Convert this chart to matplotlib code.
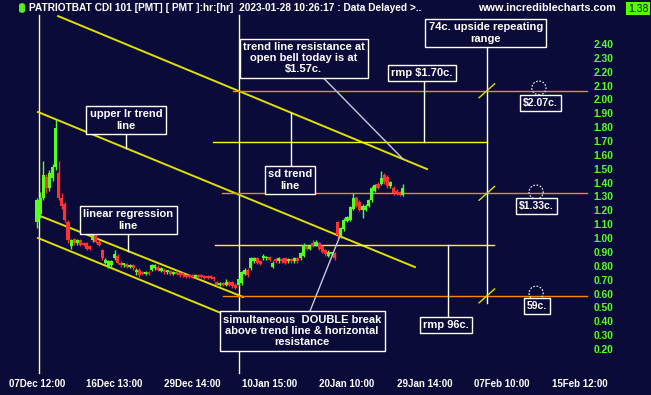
import numpy as np
import matplotlib
matplotlib.use("Agg")
import matplotlib.pyplot as plt
from matplotlib.patches import Ellipse, Rectangle, FancyBboxPatch

plt.rcParams['font.family'] = ['Liberation Sans', 'DejaVu Sans']

# ---------------- data ----------------
opens = [1.12, 1.18, 1.30, 1.45, 1.37, 1.44, 1.52, 1.48, 1.30, 1.25,
         1.12, 0.95, 1.00, 0.97, 0.99, 0.97, 0.97, 0.95, 0.99, 1.03,
         0.98, 0.92, 0.83, 0.80, 0.81, 0.86, 0.88, 0.83, 0.81, 0.82,
         0.80, 0.81, 0.76, 0.78, 0.76, 0.75, 0.76, 0.78, 0.79, 0.80,
         0.77, 0.78, 0.76, 0.77, 0.75, 0.76, 0.75, 0.75, 0.74, 0.74,
         0.74, 0.73, 0.74, 0.74, 0.73, 0.73, 0.73, 0.72, 0.69, 0.67,
         0.68, 0.67, 0.69, 0.69, 0.67, 0.67, 0.68, 0.75, 0.78, 0.79,
         0.84, 0.86, 0.84, 0.86, 0.86, 0.87, 0.80, 0.85, 0.84, 0.85,
         0.86, 0.84, 0.85, 0.84, 0.86, 0.86, 0.88, 0.95, 0.93, 0.97,
         0.96, 0.97, 0.95, 0.92, 0.88, 0.89, 0.90, 1.12, 1.02, 1.07,
         1.13, 1.14, 1.22, 1.30, 1.27, 1.21, 1.21, 1.24, 1.28, 1.35,
         1.40, 1.40, 1.46, 1.45, 1.38, 1.37, 1.35, 1.34, 1.32]
highs = [1.30, 1.34, 1.56, 1.47, 1.50, 1.54, 1.87, 1.56, 1.33, 1.27,
         1.14, 1.00, 1.01, 1.00, 1.00, 0.98, 0.98, 0.96, 1.10, 1.04,
         0.99, 0.93, 0.86, 0.85, 0.85, 0.92, 0.89, 0.84, 0.83, 0.83,
         0.82, 0.82, 0.79, 0.79, 0.77, 0.77, 0.77, 0.82, 0.82, 0.81,
         0.80, 0.79, 0.78, 0.78, 0.77, 0.77, 0.76, 0.76, 0.75, 0.75,
         0.75, 0.75, 0.75, 0.75, 0.74, 0.74, 0.74, 0.73, 0.70, 0.69,
         0.69, 0.71, 0.70, 0.70, 0.68, 0.72, 0.77, 0.79, 0.79, 0.87,
         0.87, 0.87, 0.85, 0.89, 0.88, 0.88, 0.84, 0.86, 0.87, 0.86,
         0.87, 0.86, 0.86, 0.87, 0.87, 0.91, 0.97, 0.96, 0.96, 0.99,
         0.99, 0.98, 0.96, 0.93, 0.92, 0.91, 0.91, 1.13, 1.09, 1.15,
         1.17, 1.24, 1.33, 1.31, 1.28, 1.25, 1.25, 1.29, 1.38, 1.40,
         1.41, 1.49, 1.48, 1.46, 1.42, 1.38, 1.36, 1.35, 1.40]
lows = [1.08, 1.15, 1.28, 1.33, 1.35, 1.42, 1.50, 1.28, 1.22, 1.12,
        0.97, 0.93, 0.96, 0.96, 0.95, 0.95, 0.92, 0.92, 0.98, 0.97,
        0.95, 0.85, 0.82, 0.79, 0.80, 0.85, 0.82, 0.80, 0.80, 0.79,
        0.79, 0.78, 0.74, 0.73, 0.74, 0.74, 0.74, 0.77, 0.78, 0.77,
        0.76, 0.75, 0.75, 0.74, 0.74, 0.74, 0.73, 0.73, 0.72, 0.72,
        0.72, 0.72, 0.72, 0.72, 0.71, 0.71, 0.71, 0.70, 0.66, 0.66,
        0.66, 0.66, 0.66, 0.65, 0.64, 0.66, 0.67, 0.74, 0.73, 0.78,
        0.83, 0.82, 0.81, 0.85, 0.85, 0.84, 0.79, 0.83, 0.83, 0.83,
        0.82, 0.83, 0.83, 0.83, 0.83, 0.85, 0.87, 0.92, 0.92, 0.94,
        0.95, 0.92, 0.90, 0.88, 0.87, 0.88, 0.85, 1.01, 1.01, 1.06,
        1.12, 1.13, 1.21, 1.23, 1.20, 1.15, 1.20, 1.23, 1.27, 1.34,
        1.36, 1.39, 1.40, 1.37, 1.37, 1.32, 1.32, 1.31, 1.31]
closes = [1.28, 1.30, 1.46, 1.37, 1.48, 1.52, 1.80, 1.30, 1.24, 1.14,
          0.99, 0.99, 0.97, 0.99, 0.96, 0.96, 0.93, 0.93, 1.06, 0.98,
          0.96, 0.86, 0.85, 0.84, 0.84, 0.89, 0.83, 0.81, 0.82, 0.80,
          0.81, 0.79, 0.78, 0.74, 0.75, 0.76, 0.75, 0.81, 0.81, 0.78,
          0.79, 0.76, 0.77, 0.75, 0.76, 0.75, 0.74, 0.74, 0.73, 0.73,
          0.73, 0.74, 0.73, 0.73, 0.72, 0.72, 0.72, 0.71, 0.67, 0.68,
          0.67, 0.69, 0.67, 0.66, 0.65, 0.71, 0.76, 0.78, 0.74, 0.86,
          0.86, 0.83, 0.82, 0.88, 0.87, 0.85, 0.83, 0.84, 0.86, 0.84,
          0.83, 0.85, 0.84, 0.86, 0.84, 0.90, 0.96, 0.93, 0.95, 0.95,
          0.98, 0.93, 0.91, 0.89, 0.91, 0.90, 0.86, 1.03, 1.08, 1.14,
          1.16, 1.23, 1.30, 1.24, 1.21, 1.24, 1.24, 1.28, 1.37, 1.39,
          1.37, 1.44, 1.41, 1.38, 1.41, 1.33, 1.33, 1.32, 1.37]

x_tick_pos = [0, 25, 50, 75, 100, 125, 150, 175]
x_tick_labels = ["07Dec 12:00", "16Dec 13:00", "29Dec 14:00", "10Jan 15:00",
                 "20Jan 10:00", "29Jan 14:00", "07Feb 10:00", "15Feb 12:00"]
y_tick_vals = [0.20, 0.30, 0.40, 0.50, 0.60, 0.70, 0.80, 0.90, 1.00, 1.10, 1.20,
               1.30, 1.40, 1.50, 1.60, 1.70, 1.80, 1.90, 2.00, 2.10, 2.20, 2.30, 2.40]

# trend lines: (x0, y0, x1, y1) in bar / price units
sd_trend = (6.8, 2.609, 125.8, 1.505)
upper_lr = (0.3, 1.917, 121.9, 0.798)
lin_reg = (0.3, 1.173, 66.5, 0.582)
lower_lr = (0.3, 1.008, 66.5, 0.401)

# horizontal levels: (price, x_start, x_end)
orange_levels = [(2.07, 63.2, 177.4), (1.33, 59.7, 177.4), (0.59, 60.0, 177.4)]
yellow_levels = [(1.70, 56.8, 145.2), (0.96, 57.4, 147.4)]
vlines_x = [0.8, 65.3]
range_x = 145.1

# ---------------- figure ----------------
BG = '#0b0b3a'
GREEN = '#55ff22'
RED = '#ff3333'
fig = plt.figure(figsize=(6.51, 3.95), dpi=100)
fig.patch.set_facecolor(BG)
ax = fig.add_axes([0, 0, 1, 1])
ax.set_facecolor(BG)
ax.set_xlim(-11.94, 198.06)
ax.set_ylim(-0.125, 2.725)
ax.axis('off')

# vertical marker lines
for xv in vlines_x:
    ax.plot([xv, xv], [0.035, 2.62], color='#ffff99', lw=1.0, zorder=1)

# trend lines
for (x0, y0, x1, y1) in [sd_trend, upper_lr, lin_reg, lower_lr]:
    ax.plot([x0, x1], [y0, y1], color='#e0e000', lw=1.4, zorder=2)

# horizontal lines
for (v, xs, xe) in orange_levels:
    ax.plot([xs, xe], [v, v], color='#ff8800', lw=1.0, zorder=2)
for (v, xs, xe) in yellow_levels:
    ax.plot([xs, xe], [v, v], color='#ffff00', lw=1.0, zorder=2)

# candles
idx = np.arange(len(closes))
o = np.array(opens); c = np.array(closes); h = np.array(highs); l = np.array(lows)
cols = np.where(c >= o, GREEN, RED)
ax.vlines(idx, l, h, colors=cols, lw=1.0, zorder=3)
bottoms = np.minimum(o, c)
heights = np.maximum(np.abs(c - o), 0.014)
ax.bar(idx, heights, bottom=bottoms, width=1.0, color=cols, lw=0, zorder=4)

def line_y(line, x):
    x0, y0, x1, y1 = line
    return y0 + (x - x0) * (y1 - y0) / (x1 - x0)

box_kw = dict(boxstyle='square,pad=0.3', fc=BG, ec='white', lw=1.0)
txt_kw = dict(color='white', fontsize=8, fontweight='bold', ha='center',
              va='center', linespacing=1.15, zorder=10)

def label(x, y, s, **kw):
    d = dict(txt_kw); d.update(kw)
    ax.text(x, y, s, bbox=box_kw, **d)

# leaders
LEAD = dict(color='white', lw=1.0, zorder=5)
ax.plot([range_x, range_x], [2.48, 0.54], **LEAD)
ax.plot([124.8, 124.8], [2.19, 1.70], **LEAD)
ax.plot([28.7, 28.7], [1.86, line_y(upper_lr, 28.7)], **LEAD)
ax.plot([29.4, 29.4], [1.13, line_y(lin_reg, 29.4)], **LEAD)
ax.plot([81.9, 81.9], [1.42, line_y(sd_trend, 81.9)], **LEAD)
ax.plot([132.6, 132.6], [0.38, 0.96], **LEAD)
ax.plot([86.1, 118.1], [2.306, line_y(sd_trend, 118.1)], color='#c8c8e0', lw=1.0, zorder=5)
ax.plot([85.5, 97.7], [0.337, line_y(upper_lr, 97.7)], color='#c8c8e0', lw=1.0, zorder=5)

# small diagonal marks on the range line
for (v, xs, xe) in orange_levels:
    ax.plot([range_x - 2.5, range_x + 2.5], [v - 0.05, v + 0.05], color='#e0e000', lw=1.0, zorder=6)

# dashed circles above price tags
for (cx, cy) in [(161.9, 2.09), (161.0, 1.34), (161.0, 0.61)]:
    ax.add_patch(Ellipse((cx, cy), 4.6, 0.10, fill=False, ec='white', lw=0.8,
                         ls=(0, (1.5, 1.5)), zorder=7))

# text boxes
label(144.8, 2.487, "74c. upside repeating\nrange")
label(124.2, 2.198, "rmp $1.70c.")
label(86.1, 2.306, "trend line resistance at\nopen bell today is at\n$1.57c.")
label(28.7, 1.859, "upper lr trend\nline")
label(29.4, 1.137, "linear regression\nline")
label(81.6, 1.426, "sd trend\nline")
label(85.5, 0.337, "simultaneous  DOUBLE break\nabove trend line & horizontal\nresistance")
label(131.9, 0.380, "rmp 96c.")
label(162.3, 1.982, "$2.07c.", fontsize=7.5)
label(161.0, 1.238, "$1.33c.", fontsize=7.5)
label(161.3, 0.517, "59c.", fontsize=7.5)

# axis labels
for xp, s in zip(x_tick_pos, x_tick_labels):
    ax.text(xp, -0.046, s, color='white', fontsize=7, fontweight='bold',
            ha='center', va='center')
for v in y_tick_vals:
    ax.text(182.6, v, f"{v:.2f}", color=GREEN, fontsize=7.4, fontweight='bold',
            ha='center', va='center')

# header
fig.patches.append(FancyBboxPatch((19 / 651, 1 - 13 / 395), 6 / 651, 10 / 395,
                                  boxstyle='round,pad=0,rounding_size=0.006',
                                  transform=fig.transFigure, fc='#55ee22', ec='none'))
fig.text(29 / 651, 1 - 8 / 395,
         "PATRIOTBAT CDI 101 [PMT] [ PMT ]:hr:[hr]  2023-01-28 10:26:17 : Data Delayed >..",
         color='white', fontsize=7.3, fontweight='bold', ha='left', va='center')
fig.text(547 / 651, 1 - 8 / 395, "www.incrediblecharts.com", color='white',
         fontsize=7.8, fontweight='bold', ha='center', va='center')
fig.patches.append(Rectangle((626 / 651, 1 - 15 / 395), 24 / 651, 13 / 395,
                             transform=fig.transFigure, fc='#55ff00', ec='none'))
fig.text(638 / 651, 1 - 8.5 / 395, "1.38", color='#0b0b3a', fontsize=7.5,
         ha='center', va='center')

fig.savefig("out.png", dpi=100, facecolor=BG)
